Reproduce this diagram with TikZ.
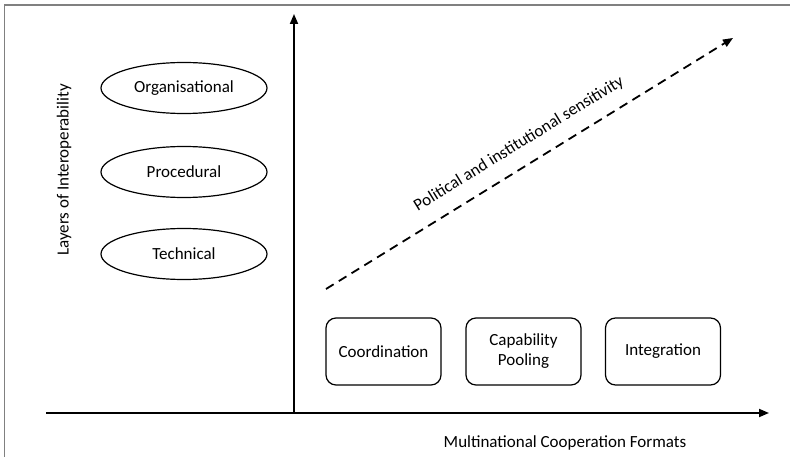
\documentclass[tikz,border=0pt]{standalone}
\usepackage{fontspec}
\setmainfont{Carlito}
\usetikzlibrary{arrows.meta,shapes.geometric}
\begin{document}
\begin{tikzpicture}[x=1pt,y=-1pt,
  layer/.style={draw,ellipse,line width=1.2pt,minimum width=166pt,minimum height=51pt,font=\fontsize{17}{19}\selectfont,inner sep=0pt},
  format/.style={draw,rounded corners=10pt,line width=1.2pt,minimum width=115pt,minimum height=67pt,align=center,font=\fontsize{17}{20}\selectfont,inner sep=0pt},
  axis/.style={line width=1.8pt,-{Triangle[length=10pt,width=8pt]}},
  lbl/.style={font=\fontsize{17}{19}\selectfont}]
\useasboundingbox (0,0) rectangle (790,457);
\draw[gray,line width=1.5pt] (4.5,457) -- (4.5,5) -- (790,5);
% axes
\coordinate (o) at (294,413);
\coordinate (ytop) at (294,14);
\coordinate (xl) at (46,413);
\coordinate (xr) at (769,413);
\draw[line width=1.8pt] (xl) -- (o);
\draw[axis] (o) -- (xr);
\draw[axis] (o) -- (ytop);
% layers
\node[layer] (org) at (184,88) {Organisational};
\node[layer] (proc) at (184,172) {Procedural};
\node[layer] (tech) at (184,254) {Technical};
\node[lbl,rotate=90] (ylab) at (64,170) {Layers of Interoperability};
% formats
\node[format] (coord) at (383.5,351.5) {Coordination};
\node[format] (pool) at (523.5,351.5) {Capability\\Pooling};
\node[format] (integ) at (663,351.5) {Integration};
\node[lbl] (xlab) at (565,443) {Multinational Cooperation Formats};
% sensitivity
\coordinate (s0) at (326,289);
\coordinate (s1) at (733,38);
\draw[line width=1.8pt,dash pattern=on 9pt off 6pt,-{Triangle[length=10pt,width=8pt]}] (s0) -- (s1);
\node[lbl,rotate=31.7] (slab) at (519,144) {Political and institutional sensitivity};
\end{tikzpicture}
\end{document}
